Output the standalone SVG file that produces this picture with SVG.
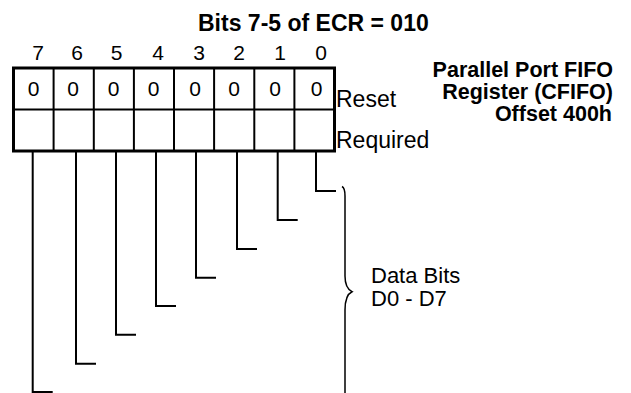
<svg xmlns="http://www.w3.org/2000/svg" width="631" height="393" viewBox="0 0 631 393">
<style>
text{font-family:"Liberation Sans",Arial,sans-serif;fill:#000}
.b{font-weight:bold}
.t{font-size:23px}
.r{font-size:21.5px;text-anchor:end}
.d{font-size:21px;text-anchor:middle}
.lbl{font-size:23px}
.db{font-size:22px}
.box{fill:#fff;stroke:#000;stroke-width:3}
.div{stroke:#000;stroke-width:2}
.c{fill:none;stroke:#000;stroke-width:2}
.br{fill:none;stroke:#000;stroke-width:1.5}
</style>
<rect width="631" height="393" fill="#fff"/>
<g id="title"><text class="b t" x="198" y="31">Bits 7-5 of ECR = 010</text></g>
<g id="register-name">
<text class="b r" x="613" y="76.5">Parallel Port FIFO</text>
<text class="b r" x="613" y="98.5">Register (CFIFO)</text>
<text class="b r" x="612" y="120.5">Offset 400h</text>
</g>
<g id="bit-numbers">
<text class="d" x="38" y="60">7</text>
<text class="d" x="77" y="60">6</text>
<text class="d" x="116.5" y="60">5</text>
<text class="d" x="158" y="60">4</text>
<text class="d" x="199" y="60">3</text>
<text class="d" x="239" y="60">2</text>
<text class="d" x="280" y="60">1</text>
<text class="d" x="321" y="60">0</text>
</g>
<g id="register">
<rect class="box" x="13.5" y="68" width="321" height="83"/>
<line class="div" x1="13.5" y1="109.5" x2="334.5" y2="109.5"/>
<line class="div" x1="53.6" y1="68" x2="53.6" y2="151"/>
<line class="div" x1="93.8" y1="68" x2="93.8" y2="151"/>
<line class="div" x1="133.9" y1="68" x2="133.9" y2="151"/>
<line class="div" x1="174" y1="68" x2="174" y2="151"/>
<line class="div" x1="214.1" y1="68" x2="214.1" y2="151"/>
<line class="div" x1="254.3" y1="68" x2="254.3" y2="151"/>
<line class="div" x1="294.4" y1="68" x2="294.4" y2="151"/>
<text class="d" x="33.5" y="96">0</text>
<text class="d" x="73" y="96">0</text>
<text class="d" x="113.5" y="96">0</text>
<text class="d" x="153.5" y="96">0</text>
<text class="d" x="195" y="96">0</text>
<text class="d" x="234" y="96">0</text>
<text class="d" x="275" y="96">0</text>
<text class="d" x="316.5" y="96">0</text>
</g>
<g id="row-labels">
<text class="lbl" x="336" y="107">Reset</text>
<text class="lbl" x="336" y="148">Required</text>
</g>
<g id="connectors">
<polyline class="c" points="316,151 316,191 336,191"/>
<polyline class="c" points="277.7,151 277.7,220 297.7,220"/>
<polyline class="c" points="237,151 237,249 257,249"/>
<polyline class="c" points="196,151 196,277.7 216,277.7"/>
<polyline class="c" points="156,151 156,306 176,306"/>
<polyline class="c" points="116,151 116,334.7 136,334.7"/>
<polyline class="c" points="76,151 76,363.7 96,363.7"/>
<polyline class="c" points="32.7,151 32.7,392 52.7,392"/>
</g>
<g id="brace">
<path class="br" d="M342,186.5 Q345,188 345,196 L345,276 Q345,288 352,291.7 Q345,295 345,310 L345,393"/>
<text class="db" x="371" y="282.5">Data Bits</text>
<text class="db" x="371" y="305.5">D0 - D7</text>
</g>
</svg>
